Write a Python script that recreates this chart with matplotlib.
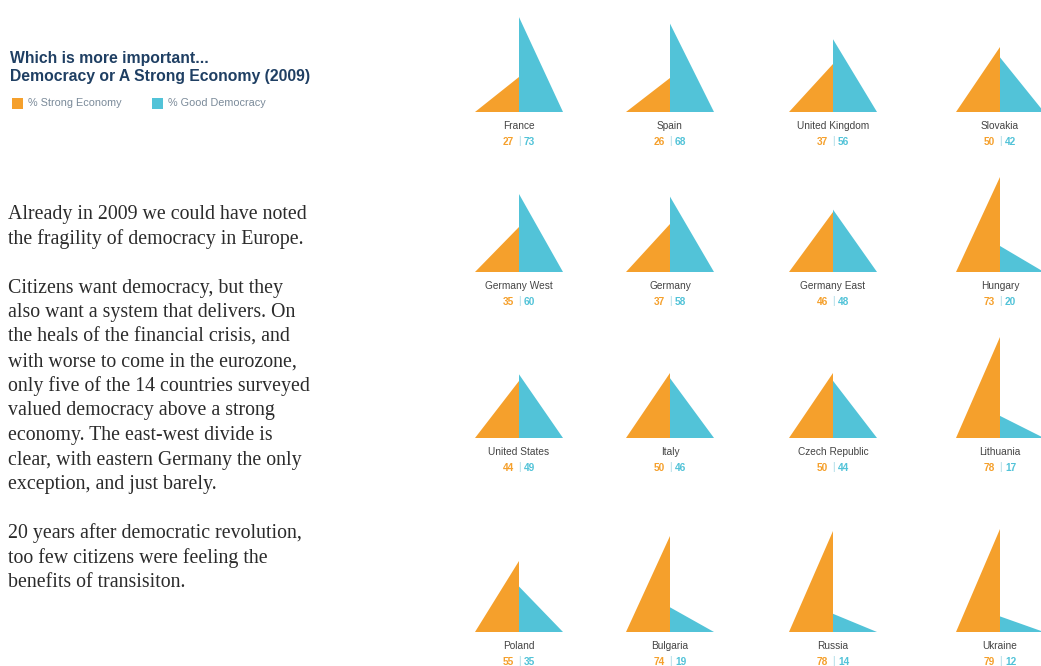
import matplotlib
matplotlib.use("Agg")
import matplotlib.pyplot as plt

# ---------------- data ----------------
countries = ["France", "Spain", "United Kingdom", "Slovakia",
             "Germany West", "Germany", "Germany East", "Hungary",
             "United States", "Italy", "Czech Republic", "Lithuania",
             "Poland", "Bulgaria", "Russia", "Ukraine"]
strong_economy = [27, 26, 37, 50,
                  35, 37, 46, 73,
                  44, 50, 50, 78,
                  55, 74, 78, 79]
good_democracy = [73, 68, 56, 42,
                  60, 58, 48, 20,
                  49, 46, 44, 17,
                  35, 19, 14, 12]

title_lines = ["Which is more important...",
               "Democracy or A Strong Economy (2009)"]
legend_labels = ["% Strong Economy", "% Good Democracy"]
body_lines = ["Already in 2009 we could have noted",
              "the fragility of democracy in Europe.",
              "",
              "Citizens want democracy, but they",
              "also want a system that delivers. On",
              "the heals of the financial crisis, and",
              "with worse to come in the eurozone,",
              "only five of the 14 countries surveyed",
              "valued democracy above a strong",
              "economy. The east-west divide is",
              "clear, with eastern Germany the only",
              "exception, and just barely.",
              "",
              "20 years after democratic revolution,",
              "too few citizens were feeling the",
              "benefits of transisiton."]

# ---------------- layout / style ----------------
ORANGE = "#F5A02C"
BLUE = "#52C3D8"
NAVY = "#1F3F63"
col_centers = [519, 670, 833, 1000]
row_bases = [112, 272, 438, 632]
half_w = 44
px_per_pct = 1.3

fig = plt.figure(figsize=(10.41, 6.66), dpi=100)
ax = fig.add_axes([0, 0, 1, 1])
ax.set_xlim(0, 1041)
ax.set_ylim(666, 0)
ax.axis("off")

for i, name in enumerate(countries):
    r, c = divmod(i, 4)
    cx = col_centers[c]
    by = row_bases[r]
    se = strong_economy[i]
    gd = good_democracy[i]
    ax.fill([cx - half_w, cx, cx], [by, by, by - se * px_per_pct],
            color=ORANGE, lw=0)
    ax.fill([cx, cx, cx + half_w], [by, by - gd * px_per_pct, by],
            color=BLUE, lw=0)
    ax.text(cx, by + 14, name, ha="center", va="center", fontsize=7.3,
            color="#444444", family="Liberation Sans")
    ax.text(cx - 5, by + 30, str(se), ha="right", va="center", fontsize=7.3,
            color=ORANGE, fontweight="bold", family="Liberation Sans")
    ax.text(cx, by + 29.5, "|", ha="center", va="center", fontsize=7,
            color="#9fd6e3", family="Liberation Sans")
    ax.text(cx + 5, by + 30, str(gd), ha="left", va="center", fontsize=7.3,
            color=BLUE, fontweight="bold", family="Liberation Sans")

# title
ax.text(10, 58, title_lines[0], ha="left", va="center", fontsize=11.3,
        color=NAVY, fontweight="bold", family="Liberation Sans")
ax.text(10, 76, title_lines[1], ha="left", va="center", fontsize=11.3,
        color=NAVY, fontweight="bold", family="Liberation Sans")

# legend
ax.fill([12, 23, 23, 12], [98, 98, 109, 109], color=ORANGE, lw=0)
ax.text(28, 103.5, legend_labels[0], ha="left", va="center", fontsize=7.8,
        color="#7a8a99", family="Liberation Sans")
ax.fill([152, 163, 163, 152], [98, 98, 109, 109], color=BLUE, lw=0)
ax.text(168, 103.5, legend_labels[1], ha="left", va="center", fontsize=7.8,
        color="#7a8a99", family="Liberation Sans")

# body text
y0 = 215
step = 24.5
for k, line in enumerate(body_lines):
    if line:
        ax.text(8, y0 + k * step, line, ha="left", va="center",
                fontsize=14.3, color="#2b2b2b", family="Liberation Serif")

fig.savefig("out.png", dpi=100, facecolor="white")
